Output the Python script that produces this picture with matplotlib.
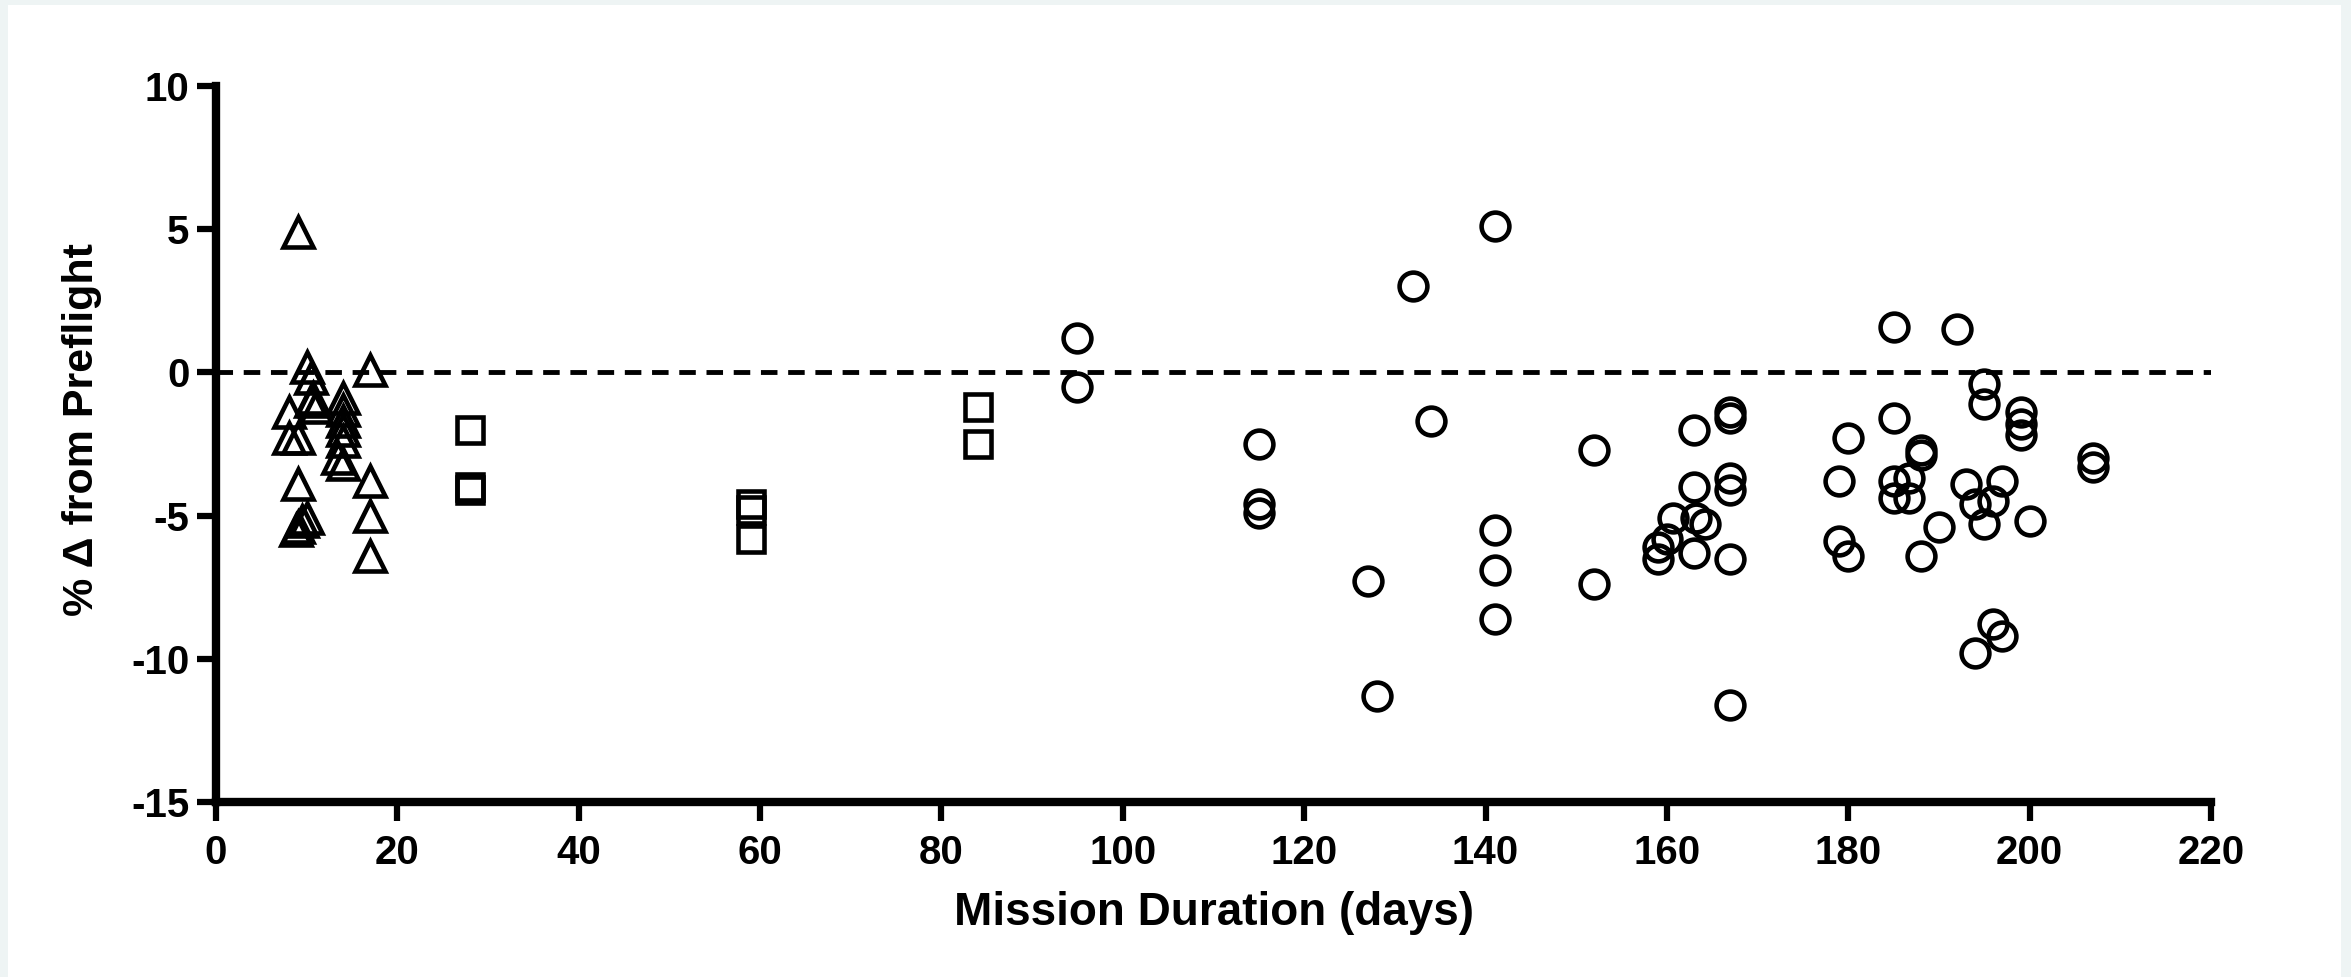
import matplotlib
matplotlib.use("Agg")
import matplotlib.pyplot as plt
import matplotlib.patches as patches

plt.rcParams["font.family"] = ["Liberation Sans", "DejaVu Sans"]
plt.rcParams["font.weight"] = "bold"
plt.rcParams["axes.unicode_minus"] = False

# short-duration flights (triangles)
tri_days = [9, 10, 10.5, 17, 8, 10.5, 11, 10.7, 14, 14, 14, 14, 14, 13.5, 14,
            8, 9, 9, 17, 9, 9.5, 10, 8.8, 17, 17]
tri_vals = [4.9, 0.2, -0.2, 0.1, -1.4, -1.0, -1.2, -0.9, -0.9, -1.3, -1.7, -2.0, -2.4, -3.0, -3.2,
            -2.3, -2.3, -3.9, -3.8, -5.4, -5.2, -5.1, -5.5, -5.0, -6.4]

# medium-duration flights (squares)
sq_days = [28, 28, 28, 59, 59, 59, 84, 84]
sq_vals = [-2.0, -4.0, -4.1, -4.6, -4.8, -5.8, -1.2, -2.5]

# long-duration flights (circles)
circ_days = [95, 95, 115, 115, 115, 127, 128, 132, 134, 141, 141, 141, 141, 152, 152,
             159, 159, 160, 160.7, 163.2, 164.2, 163, 163, 163, 167, 167, 167, 167, 167, 167,
             179, 179, 180, 180, 185, 185, 185, 185, 186.7, 186.7, 188, 188, 188, 190, 192,
             193, 194, 194, 195, 195, 195, 196, 196, 197, 197, 199, 199, 199, 200, 207, 207]
circ_vals = [1.2, -0.5, -2.5, -4.6, -4.9, -7.3, -11.3, 3.0, -1.7, 5.1, -5.5, -6.9, -8.6, -2.7, -7.4,
             -6.1, -6.5, -5.8, -5.1, -5.1, -5.3, -6.3, -2.0, -4.0, -1.4, -1.6, -3.7, -4.1, -6.5, -11.6,
             -3.8, -5.9, -2.3, -6.4, 1.6, -1.6, -3.8, -4.4, -3.7, -4.4, -2.7, -2.9, -6.4, -5.4, 1.5,
             -3.9, -4.6, -9.8, -0.4, -1.1, -5.3, -4.5, -8.8, -3.8, -9.2, -1.4, -1.8, -2.2, -5.2, -3.0, -3.3]

x_ticks = [0, 20, 40, 60, 80, 100, 120, 140, 160, 180, 200, 220]
y_ticks = [-15, -10, -5, 0, 5, 10]

fig = plt.figure(figsize=(23.51, 9.77), dpi=100, facecolor="#EEF4F4")
fig.patches.append(patches.Rectangle((8 / 2351, 0), 1 - 18 / 2351, 1 - 5 / 977,
                                     transform=fig.transFigure, facecolor="white",
                                     edgecolor="none", zorder=-10))
ax = fig.add_axes([216 / 2351, 175 / 977, 1995 / 2351, 716 / 977])
ax.set_facecolor("none")

mk = dict(linestyle="none", markerfacecolor="none", markeredgecolor="black",
          markeredgewidth=3.3, clip_on=False)
ax.plot(tri_days, tri_vals, marker="^", markersize=21, **mk)
ax.plot(sq_days, sq_vals, marker="s", markersize=19, **mk)
ax.plot(circ_days, circ_vals, marker="o", markersize=20, **mk)

ax.axhline(0, color="black", linewidth=3.5, linestyle=(0, (3.4, 2.2)), zorder=1)

ax.set_xlim(0, 220)
ax.set_ylim(-15, 10)
ax.set_xticks(x_ticks)
ax.set_yticks(y_ticks)
for s in ["top", "right"]:
    ax.spines[s].set_visible(False)
for s in ["left", "bottom"]:
    ax.spines[s].set_linewidth(6)
    ax.spines[s].set_capstyle("projecting")
ax.tick_params(axis="both", width=4.5, length=14, labelsize=29, pad=5)
ax.tick_params(axis="x", pad=9)
for lab in ax.get_xticklabels() + ax.get_yticklabels():
    lab.set_fontweight("bold")

ax.set_xlabel("Mission Duration (days)", fontsize=33, fontweight="bold", labelpad=14)
ax.set_ylabel("% Δ from Preflight", fontsize=31, fontweight="bold", labelpad=18)
ax.yaxis.set_label_coords(-0.057, 0.52)

fig.savefig("out.png", dpi=100, facecolor=fig.get_facecolor())
